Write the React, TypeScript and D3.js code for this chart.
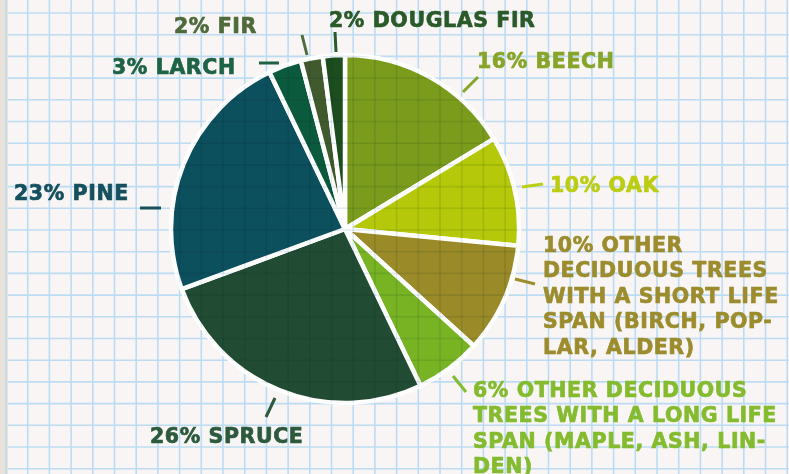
import * as d3 from 'd3';
import React, {useEffect, useRef} from 'react';

// tree species share, clockwise from 12 o'clock
const species = ['Beech', 'Oak', 'Other short life', 'Other long life', 'Spruce', 'Pine', 'Larch', 'Fir', 'Douglas fir'];
const shares = [16, 10, 10, 6, 26, 23, 3, 2, 2];
const labelLines = [
    ['16% BEECH'],
    ['10% OAK'],
    ['10% OTHER', 'DECIDUOUS TREES', 'WITH A SHORT LIFE', 'SPAN (BIRCH, POP-', 'LAR, ALDER)'],
    ['6% OTHER DECIDUOUS', 'TREES WITH A LONG LIFE', 'SPAN (MAPLE, ASH, LIN-', 'DEN)'],
    ['26% SPRUCE'],
    ['23% PINE'],
    ['3% LARCH'],
    ['2% FIR'],
    ['2% DOUGLAS FIR'],
];

const sliceColors = ['#7b9b1c', '#b6c80a', '#9b8a28', '#78b324', '#214c33', '#0c4f5d', '#0b5a3d', '#405a2e', '#1c4d1f'];
const textColors = ['#88a52a', '#bccd14', '#9c8c2e', '#84bb2f', '#2d5a3c', '#164f5d', '#1f6346', '#4f6a3b', '#2a5a29'];

// label placement: text start x, first baseline, leader line [x1, y1, x2, y2]
const labelLayout = [
    {x: 477, y: 68, leader: [463, 92, 478, 77]},
    {x: 550, y: 192, leader: [522, 187, 543, 184]},
    {x: 543, y: 252, leader: [515, 279, 535, 284]},
    {x: 473, y: 397, leader: [453, 376, 466, 392]},
    {x: 150, y: 443, leader: [275, 398, 266, 417]},
    {x: 14, y: 200, leader: [140, 208, 161, 208]},
    {x: 112, y: 74, leader: [259, 63, 279, 63]},
    {x: 174, y: 33, leader: [302, 35, 307, 55]},
    {x: 329, y: 27, leader: [335, 32, 336, 52]},
];

const W = 789, H = 474;

function App() {
    const ref = useRef(null);

    useEffect(() => {
        const svg = d3.select(ref.current);
        svg.selectAll('*').remove();

        // paper
        svg.append('rect').attr('width', W).attr('height', H).attr('fill', '#f8f5f4');
        svg.append('rect').attr('width', 8).attr('height', H).attr('fill', '#e9e1d7');

        const step = 21.7;
        const gridX = d3.range(6, W, step);
        const gridY = d3.range(13, H, step);

        const drawGrid = (g, color, opacity, width) => {
            g.selectAll('line.v').data(gridX).join('line')
                .attr('class', 'v')
                .attr('x1', d => d).attr('x2', d => d)
                .attr('y1', 0).attr('y2', H)
                .attr('stroke', color).attr('stroke-width', width).attr('opacity', opacity);
            g.selectAll('line.h').data(gridY).join('line')
                .attr('class', 'h')
                .attr('x1', 8).attr('x2', W)
                .attr('y1', d => d).attr('y2', d => d)
                .attr('stroke', color).attr('stroke-width', width).attr('opacity', opacity);
        };
        drawGrid(svg.append('g'), '#bcdcf3', 1, 1.6);

        // pie
        const cx = 345, cy = 229, radius = 174;
        const pie = d3.pie().sort(null).value(d => d);
        const arc = d3.arc().innerRadius(0).outerRadius(radius);
        const chart = svg.append('g').attr('transform', `translate(${cx},${cy})`);
        chart.selectAll('path')
            .data(pie(shares))
            .join('path')
            .attr('d', arc)
            .attr('fill', (d, i) => sliceColors[i])
            .attr('stroke', '#ffffff')
            .attr('stroke-width', 4.5)
            .attr('stroke-linejoin', 'round');

        // labels
        const labels = svg.append('g');
        species.forEach((s, i) => {
            const lay = labelLayout[i];
            labels.append('line')
                .attr('x1', lay.leader[0]).attr('y1', lay.leader[1])
                .attr('x2', lay.leader[2]).attr('y2', lay.leader[3])
                .attr('stroke', textColors[i])
                .attr('stroke-width', 3);
            const t = labels.append('text')
                .attr('x', lay.x).attr('y', lay.y)
                .attr('fill', textColors[i])
                .attr('stroke', textColors[i])
                .attr('stroke-width', 0.7)
                .style('font-family', '"DejaVu Sans", sans-serif')
                .style('font-weight', 'bold')
                .style('font-size', '20.5px')
                .style('letter-spacing', '0.6px');
            labelLines[i].forEach((line, j) => {
                t.append('tspan').attr('x', lay.x).attr('dy', j === 0 ? 0 : 25.4).text(line);
            });
        });

        // grid shows faintly through the ink
        const overlay = svg.append('g').style('mix-blend-mode', 'multiply');
        overlay.append('clipPath').attr('id', 'pieClip')
            .append('circle').attr('cx', cx).attr('cy', cy).attr('r', radius);
        drawGrid(overlay.append('g').attr('clip-path', 'url(#pieClip)'), '#2f6f9a', 0.14, 1.6);
    }, []);

    return (
        <svg ref={ref} width={W} height={H}
            style={{position: 'absolute', left: 0, top: 0, display: 'block'}} />
    );
}

export default App;
